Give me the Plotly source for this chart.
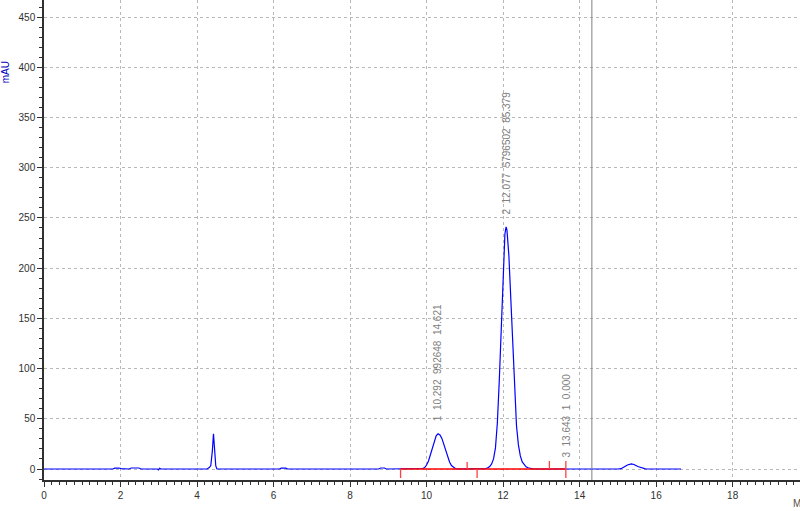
import plotly.graph_objects as go

# chromatogram signal (time in min, signal in mAU)
time = [0.00, 1.80, 1.85, 1.95, 2.02, 2.22, 2.28, 2.48, 2.54, 2.96, 2.99, 3.02, 3.06,
        4.26, 4.32, 4.36, 4.40, 4.43, 4.46, 4.49, 4.52,
        6.15, 6.20, 6.32, 6.37, 8.75, 8.80, 8.90, 8.95,
        9.85, 9.90, 9.95, 10.00, 10.05, 10.10, 10.15, 10.20, 10.25, 10.30, 10.35,
        10.40, 10.45, 10.50, 10.55, 10.60, 10.65, 10.70, 10.75, 10.80,
        11.50, 11.55, 11.60, 11.65, 11.70, 11.75, 11.80, 11.85, 11.90, 11.95, 12.00,
        12.047, 12.077, 12.10, 12.15, 12.20, 12.25, 12.30, 12.35, 12.40, 12.45, 12.50,
        12.55, 12.60, 12.65, 12.70, 12.80,
        15.00, 15.08, 15.15, 15.25, 15.35, 15.42, 15.52, 15.62, 15.72, 15.78, 16.65]
signal = [0, 0, 0.8, 1.0, 0.3, 0, 1.0, 1.0, 0, 0, -0.8, 0.8, 0,
          0, 1.5, 3.5, 18, 35, 19, 3, 0,
          0, 0.8, 0.8, 0, 0, 1.0, 1.0, 0,
          0, 0.5, 1.5, 4, 8, 14, 21, 28, 33, 35, 34,
          30.5, 25, 18.5, 12, 7, 3.5, 1.5, 0.5, 0,
          0, 0.4, 1.2, 2.5, 5, 10, 21, 46, 88, 144, 199,
          234, 241, 238, 213, 170, 121, 76, 43, 24, 13, 7,
          4, 2.2, 1.2, 0.6, 0,
          0, 0.3, 1.8, 4.0, 5.0, 4.5, 2.5, 1.0, 0.2, 0, 0]

# integration baseline and event marks
baseline_start = 9.32
baseline_end = 13.64
event_times = [9.32, 11.06, 11.32, 13.21, 13.64]
event_top = [0, 7, 0, 8, 8]
event_bottom = [-9, 0, -9, 0, -9]

# peak table
peak_rt = [10.27, 12.08, 13.66]
peak_label_y = [46, 251, 9]
peak_labels = ["1  10.292  992648  14.621",
               "2  12.077  5796502  85.379",
               "3  13.643  1  0.000"]

cursor_time = 14.32

fig = go.Figure()

fig.add_trace(go.Scatter(x=time, y=signal, mode="lines",
                         line=dict(color="#0000ff", width=1.2), hoverinfo="skip"))

fig.add_trace(go.Scatter(x=[baseline_start, baseline_end], y=[0, 0], mode="lines",
                         line=dict(color="#ff0000", width=1.5), hoverinfo="skip"))

tx, ty = [], []
for t, top, bot in zip(event_times, event_top, event_bottom):
    tx += [t, t, None]
    ty += [bot, top, None]
fig.add_trace(go.Scatter(x=tx, y=ty, mode="lines",
                         line=dict(color="#ff4040", width=1.3), hoverinfo="skip"))

fig.add_vline(x=cursor_time, line=dict(color="#808080", width=1))

for rt, ly, txt in zip(peak_rt, peak_label_y, peak_labels):
    fig.add_annotation(x=rt, y=ly, text=txt.replace(" ", "\u00a0"), textangle=-90,
                       showarrow=False, xanchor="center", yanchor="bottom",
                       font=dict(family="Arial", size=10, color="#808080"))

fig.add_annotation(xref="paper", yref="y", x=0, y=395, xshift=-39, text="mAU",
                   textangle=-90, showarrow=False, xanchor="center", yanchor="middle",
                   font=dict(family="Arial", size=10, color="#0000c0"))
fig.add_annotation(xref="paper", yref="paper", x=1, y=0, xshift=-9, yshift=-31,
                   text="Minutes", showarrow=False, xanchor="left", yanchor="bottom",
                   font=dict(family="Arial", size=10, color="#505050"))

axis_common = dict(showline=True, linecolor="#303030", linewidth=1.5,
                   ticks="outside", tickcolor="#303030", ticklen=5, automargin=False,
                   showgrid=True, gridcolor="#b8b8b8", griddash="3px,3px", gridwidth=1,
                   zeroline=False, tickfont=dict(family="Arial", size=10, color="#303030"))

fig.update_xaxes(range=[0, 19.76], dtick=2, tick0=0,
                 minor=dict(dtick=0.2, ticks="outside", ticklen=3, tickcolor="#303030", showgrid=False),
                 **axis_common)
fig.update_yaxes(range=[-10.95, 467], dtick=50, tick0=0,
                 minor=dict(dtick=10, ticks="outside", ticklen=3, tickcolor="#303030", showgrid=False),
                 **axis_common)

fig.update_layout(width=800, height=511, showlegend=False,
                  margin=dict(l=44, r=0, t=0, b=31),
                  plot_bgcolor="white", paper_bgcolor="white")

# drop the page's default body margin so the figure sits at the window corner
fig.write_html("out.html", config={"displayModeBar": False},
               post_script="document.body.style.margin='0';")
